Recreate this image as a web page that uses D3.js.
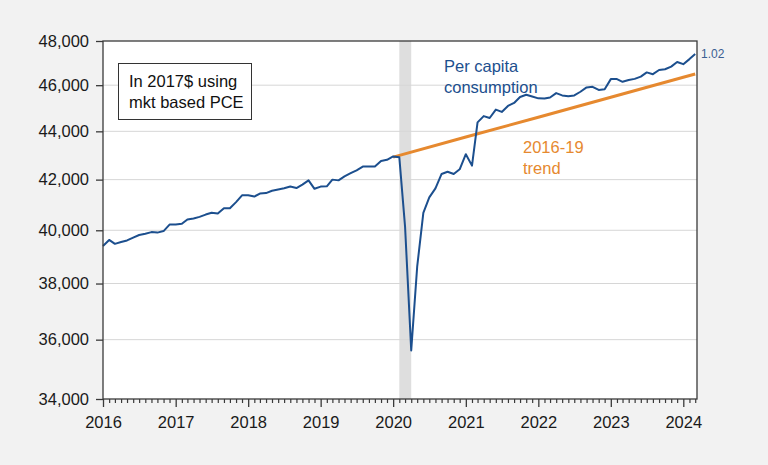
<!DOCTYPE html>
<html><head><meta charset="utf-8">
<script src="https://cdn.jsdelivr.net/npm/d3@7"></script>
<style>
html,body{margin:0;padding:0;background:#f2f2f2;}
svg{display:block;font-family:"Liberation Sans",Arial,Helvetica,sans-serif;}
</style>
</head><body>
<svg id="chart" width="768" height="465"></svg>
<script>
// ---- data ----
const firstMonth = "2016-01";
const consumption = [
  39400,39630,39480,39550,39610,39720,39820,39870,39930,39910,39970,40220,
  40220,40250,40420,40460,40520,40610,40680,40650,40860,40860,41100,41370,
  41370,41320,41440,41460,41550,41600,41650,41720,41660,41800,41970,41630,
  41720,41730,42000,41970,42130,42260,42380,42530,42530,42530,42760,42810,
  42950,42920,40140,35630,38620,40680,41290,41650,42230,42320,42230,42420,
  43040,42570,44380,44650,44570,44930,44830,45090,45220,45480,45580,45500,
  45420,45410,45460,45650,45550,45510,45550,45710,45900,45930,45790,45820,
  46270,46270,46150,46230,46280,46380,46570,46490,46680,46710,46830,47040,
  46940,47170,47400
];
const trendMonths = ["2020-01","2021-01","2022-01","2023-01","2024-01","2024-03"];
const trendValues = [42920,43760,44600,45470,46350,46495];
const yTicks = [34000,36000,38000,40000,42000,44000,46000,48000];
const xYears = [2016,2017,2018,2019,2020,2021,2022,2023,2024];
const recession = ["2020-02","2020-04"];
const endLabel = "1.02";
const boxLines = ["In 2017$ using","mkt based PCE"];
const seriesLabel = ["Per capita","consumption"];
const trendLabel = ["2016-19","trend"];

// ---- setup ----
const W = 768, H = 465;
const L = 103, R = 697, T = 41, B = 399;
const blue = "#1c4f8e", orange = "#e6892f";
const parseM = d3.timeParse("%Y-%m");
const svg = d3.select("#chart");

const x = d3.scaleTime().domain([new Date(2016,0,1), new Date(2024,2,10)]).range([L, R]);
const y = d3.scaleLog().domain([34000, 48000]).range([B, T]);

const start = parseM(firstMonth);
const series = consumption.map((v,i) => ({date: d3.timeMonth.offset(start, i), value: v}));
const trend = trendMonths.map((m,i) => ({date: parseM(m), value: trendValues[i]}));

svg.append("rect").attr("width", W).attr("height", H).attr("fill", "#f2f2f2");
svg.append("rect").attr("x", L).attr("y", T).attr("width", R-L).attr("height", B-T).attr("fill", "#fff");

// recession shading
svg.append("rect")
  .attr("x", x(parseM(recession[0]))).attr("y", T)
  .attr("width", x(parseM(recession[1])) - x(parseM(recession[0])))
  .attr("height", B-T).attr("fill", "#dedede");

// grid
svg.append("g").selectAll("line").data(yTicks.filter(v => v>34000 && v<48000)).join("line")
  .attr("x1", L).attr("x2", R).attr("y1", d => y(d)).attr("y2", d => y(d))
  .attr("stroke", "#d6d6d6").attr("stroke-width", 1);

// lines
const line = d3.line().x(d => x(d.date)).y(d => y(d.value));
svg.append("path").datum(trend).attr("d", line).attr("fill","none")
  .attr("stroke", orange).attr("stroke-width", 3).attr("stroke-linejoin","round");
svg.append("path").datum(series).attr("d", line).attr("fill","none")
  .attr("stroke", blue).attr("stroke-width", 2).attr("stroke-linejoin","round");

// frame
svg.append("rect").attr("x", L).attr("y", T).attr("width", R-L).attr("height", B-T)
  .attr("fill","none").attr("stroke","#3a3a3a").attr("stroke-width",1.3);

// y axis
const yAxis = svg.append("g").attr("transform", `translate(${L},0)`)
  .call(d3.axisLeft(y).tickValues(yTicks).tickSize(7).tickPadding(7).tickFormat(d3.format(",")));
yAxis.select(".domain").remove();
yAxis.selectAll("line").attr("stroke","#3a3a3a").attr("stroke-width",1.3);
yAxis.selectAll("text").attr("font-size", "16.5px").attr("fill","#1a1a1a")
  .attr("font-family", '"Liberation Sans",Arial,sans-serif');

// x axis minor (monthly)
const months = d3.timeMonth.range(new Date(2016,0,1), new Date(2024,2,15)).filter(d => d.getMonth() !== 0);
const xMinor = svg.append("g").attr("transform", `translate(0,${B})`)
  .call(d3.axisBottom(x).tickValues(months).tickSize(4).tickFormat(""));
xMinor.select(".domain").remove();
xMinor.selectAll("line").attr("stroke","#3a3a3a").attr("stroke-width",1.2);

const xAxis = svg.append("g").attr("transform", `translate(0,${B})`)
  .call(d3.axisBottom(x).tickValues(xYears.map(yy => new Date(yy,0,1))).tickSize(8).tickPadding(9)
    .tickFormat(d3.timeFormat("%Y")));
xAxis.select(".domain").remove();
xAxis.selectAll("line").attr("stroke","#3a3a3a").attr("stroke-width",1.3);
xAxis.selectAll("text").attr("font-size", "16.5px").attr("fill","#1a1a1a")
  .attr("font-family", '"Liberation Sans",Arial,sans-serif');

// annotation box
svg.append("rect").attr("x", 118.5).attr("y", 63.5).attr("width", 133).attr("height", 56)
  .attr("fill","#fff").attr("stroke","#333").attr("stroke-width",1);
svg.append("g").selectAll("text").data(boxLines).join("text")
  .attr("x", 129).attr("y", (d,i) => 86.7 + i*21.5)
  .attr("font-size","16.5px").attr("fill","#111").text(d => d);

// series labels
svg.append("g").selectAll("text").data(seriesLabel).join("text")
  .attr("x", 444).attr("y", (d,i) => 71.7 + i*21)
  .attr("font-size","16.5px").attr("fill", blue).text(d => d);
svg.append("g").selectAll("text").data(trendLabel).join("text")
  .attr("x", 523).attr("y", (d,i) => 153.3 + i*21)
  .attr("font-size","16.5px").attr("fill", orange).text(d => d);

// end label
const last = series[series.length-1];
svg.append("text").attr("x", R + 4).attr("y", y(last.value) + 4)
  .attr("font-size","12px").attr("fill", "#3b5f93").text(endLabel);
</script>
</body></html>
